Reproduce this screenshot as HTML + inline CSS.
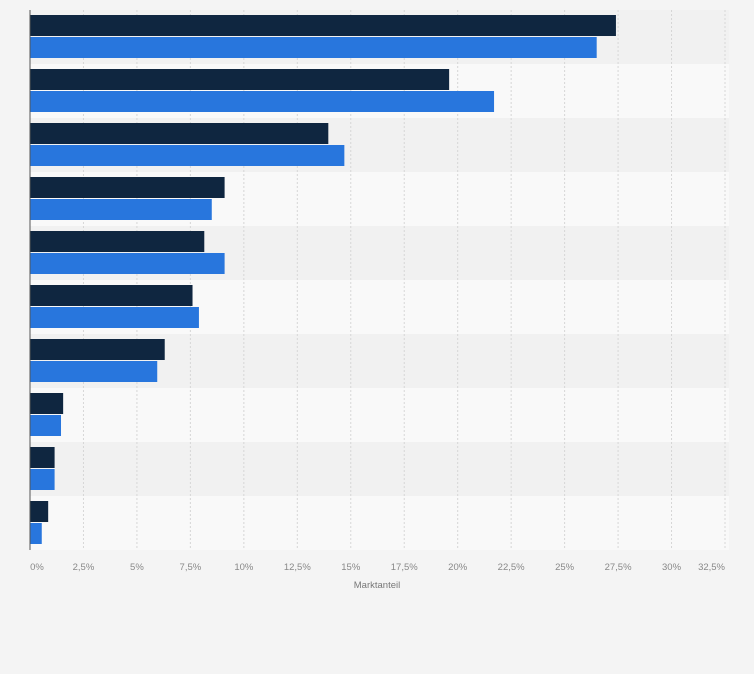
<!DOCTYPE html>
<html><head><meta charset="utf-8"><style>
body{margin:0;background:#f4f4f4;font-family:"Liberation Sans",sans-serif}
</style></head><body>
<svg id="chart" width="754" height="669" xmlns="http://www.w3.org/2000/svg"></svg>
<script>
const categories=["A","B","C","D","E","F","G","H","I","J"];
const series1=[27.4,19.6,13.95,9.1,8.15,7.6,6.3,1.55,1.15,0.85];
const series2=[26.5,21.7,14.7,8.5,9.1,7.9,5.95,1.45,1.15,0.55];
const ticks=[0,2.5,5,7.5,10,12.5,15,17.5,20,22.5,25,27.5,30,32.5];
const tickLabels=["0%","2,5%","5%","7,5%","10%","12,5%","15%","17,5%","20%","22,5%","25%","27,5%","30%","32,5%"];
const svg=document.getElementById('chart');
const NS="http://www.w3.org/2000/svg";
const x0=30,x1=725,yTop=10,yBottom=550;
const xs=v=>x0+v/32.5*(x1-x0);
const rowH=(yBottom-yTop)/categories.length;
function mk(t,a){const e=document.createElementNS(NS,t);for(const k in a)e.setAttribute(k,a[k]);svg.appendChild(e);return e;}
categories.forEach((c,i)=>{
  const r=mk('rect',{x:x0,y:yTop+i*rowH,width:x1-x0+4,height:rowH,fill:i%2?'#f9f9f9':'#f1f1f1'});
  
  
});
ticks.forEach((t,i)=>{
  if(i>0){const g=mk('line',{x1:xs(t),x2:xs(t),y1:yTop,y2:yBottom,stroke:'#d6d6d6','stroke-dasharray':'2,2'});
  
  }
  const last=i==ticks.length-1;
  const tx=mk('text',{x:xs(t)+(i==0?7:0),y:570,'font-size':'9.5',fill:'#888','text-anchor':last?'end':'middle'});
  tx.textContent=tickLabels[i];
  
  
});
categories.forEach((c,i)=>{
  const y=yTop+i*rowH;
  const b1=mk('rect',{x:x0,y:y+5,width:xs(series1[i])-x0,height:21,fill:'#0f2640'});
  
  
  const b2=mk('rect',{x:x0,y:y+27,width:xs(series2[i])-x0,height:21,fill:'#2876dd'});
  
  
});
const ax=mk('line',{x1:x0,x2:x0,y1:yTop,y2:yBottom,stroke:'#555','stroke-width':1});


const tt=mk('text',{x:377,y:588,'font-size':'9.5',fill:'#777','text-anchor':'middle'});
tt.textContent='Marktanteil';


</script>
</body></html>
